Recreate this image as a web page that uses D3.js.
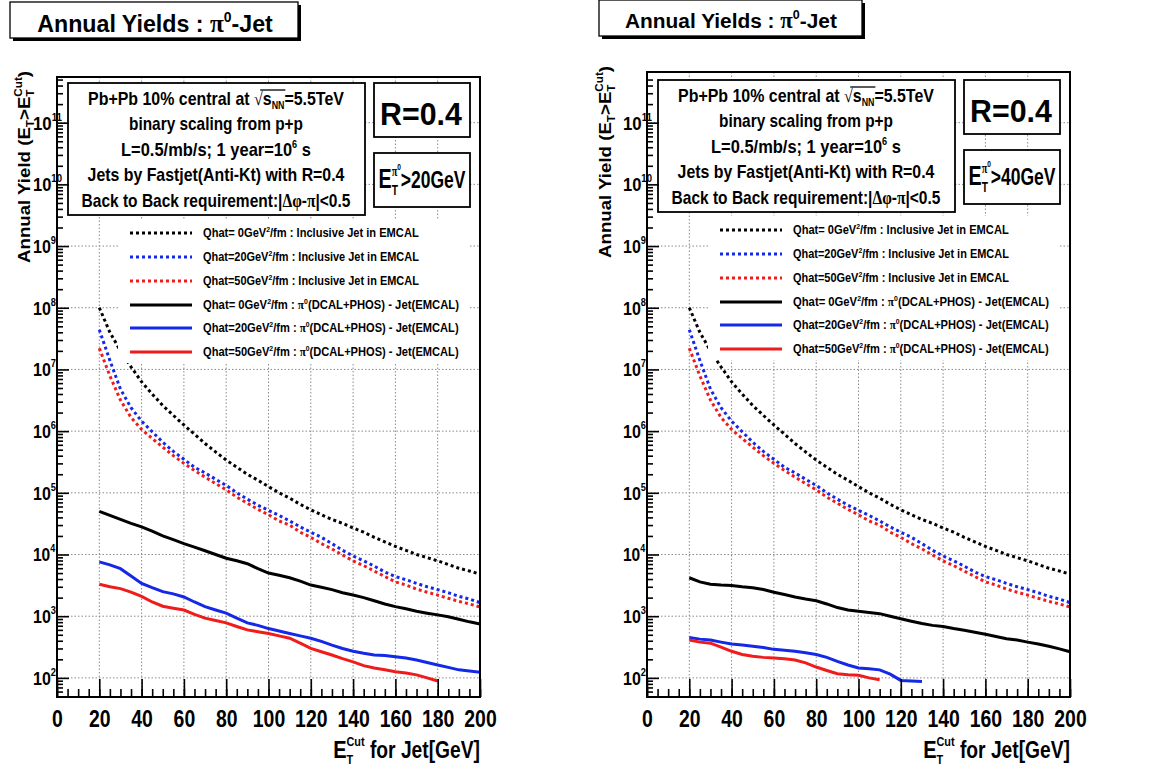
<!DOCTYPE html>
<html>
<head>
<meta charset="utf-8">
<script src="https://cdn.jsdelivr.net/npm/d3@7"></script>
<style>
body { margin: 0; background: #fff; }
svg text { font-family: "Liberation Sans Narrow", "Arial Narrow", "Liberation Sans", Arial, sans-serif; font-weight: bold; fill: #000; white-space: pre; }
svg .gr { font-family: "Liberation Serif", "Times New Roman", serif; }
</style>
</head>
<body>
<script>
// E_T cut on the jet [GeV]
const ecut = [20, 25, 30, 35, 40, 45, 50, 55, 60, 65, 70, 75, 80, 85, 90, 95, 100, 105, 110, 115, 120,
              125, 130, 135, 140, 145, 150, 155, 160, 165, 170, 175, 180, 185, 190, 195, 200];

// inclusive jets in EMCAL (same in both panels)
const inclQ0 = [1.0e8, 4.0e7, 2.0e7, 1.1e7, 6.3e6, 4.0e6, 2.6e6, 1.8e6, 1.26e6, 8.9e5, 6.3e5, 4.6e5, 3.4e5,
                2.6e5, 2.0e5, 1.6e5, 1.26e5, 1.0e5, 8.2e4, 6.5e4, 5.3e4, 4.4e4, 3.7e4, 3.2e4, 2.7e4, 2.3e4,
                1.9e4, 1.6e4, 1.35e4, 1.17e4, 1.0e4, 8.9e3, 7.9e3, 6.9e3, 6.0e3, 5.4e3, 4.8e3];
const inclQ20 = [4.4e7, 1.4e7, 4.8e6, 2.4e6, 1.45e6, 9.8e5, 6.6e5, 4.7e5, 3.5e5, 2.6e5, 2.1e5, 1.66e5, 1.32e5,
                 1.0e5, 7.9e4, 6.3e4, 5.2e4, 4.3e4, 3.5e4, 2.8e4, 2.3e4, 1.9e4, 1.5e4, 1.17e4, 9.5e3, 7.9e3,
                 6.5e3, 5.2e3, 4.4e3, 3.9e3, 3.4e3, 3.0e3, 2.7e3, 2.4e3, 2.1e3, 1.9e3, 1.66e3];
const inclQ50 = [2.2e7, 7.9e6, 3.2e6, 1.66e6, 1.07e6, 7.6e5, 5.5e5, 4.0e5, 3.0e5, 2.3e5, 1.8e5, 1.41e5, 1.12e5,
                 8.5e4, 6.8e4, 5.4e4, 4.4e4, 3.5e4, 3.0e4, 2.3e4, 1.9e4, 1.5e4, 1.23e4, 9.8e3, 7.9e3, 6.6e3,
                 5.4e3, 4.4e3, 3.6e3, 3.2e3, 2.75e3, 2.45e3, 2.2e3, 1.95e3, 1.74e3, 1.58e3, 1.41e3];

// pi0(DCAL+PHOS) - jet(EMCAL), E_T^pi0 > 20 GeV
const pj20Q0 = [5.0e4, 4.3e4, 3.7e4, 3.2e4, 2.8e4, 2.4e4, 2.0e4, 1.74e4, 1.5e4, 1.32e4, 1.15e4, 1.0e4, 8.7e3,
                7.9e3, 7.1e3, 5.9e3, 5.0e3, 4.6e3, 4.2e3, 3.7e3, 3.2e3, 2.95e3, 2.7e3, 2.4e3, 2.2e3, 2.0e3,
                1.78e3, 1.58e3, 1.43e3, 1.32e3, 1.2e3, 1.12e3, 1.05e3, 980, 890, 810, 750];
const pj20Q20 = [7.6e3, 6.8e3, 5.9e3, 4.5e3, 3.4e3, 2.9e3, 2.5e3, 2.3e3, 2.05e3, 1.7e3, 1.43e3, 1.26e3, 1.12e3,
                 930, 780, 710, 630, 575, 525, 480, 440, 390, 340, 300, 270, 250, 235, 230, 220, 210, 195,
                 178, 162, 148, 135, 129, 123];
const pj20Q50 = [3.3e3, 3.0e3, 2.8e3, 2.45e3, 2.1e3, 1.7e3, 1.45e3, 1.35e3, 1.26e3, 1.07e3, 930, 850, 780,
                 680, 600, 560, 525, 480, 440, 365, 300, 265, 235, 205, 182, 158, 145, 135, 126, 120, 112,
                 100, 89];

// pi0(DCAL+PHOS) - jet(EMCAL), E_T^pi0 > 40 GeV
const pj40Q0 = [4.2e3, 3.6e3, 3.3e3, 3.2e3, 3.15e3, 3.0e3, 2.9e3, 2.7e3, 2.45e3, 2.25e3, 2.05e3, 1.9e3, 1.78e3,
                1.58e3, 1.38e3, 1.26e3, 1.2e3, 1.15e3, 1.1e3, 1.0e3, 910, 830, 760, 710, 680, 630, 590, 550,
                510, 470, 430, 410, 380, 355, 325, 295, 265];
const pj40Q20 = [450, 425, 410, 380, 355, 340, 325, 310, 290, 280, 270, 255, 240, 215, 185, 162, 145, 141,
                 135, 115, 91, 89, 87];
const pj40Q50 = [410, 380, 365, 315, 270, 240, 225, 215, 210, 205, 195, 175, 150, 132, 117, 112, 110, 100, 93];

const xTicks = [0, 20, 40, 60, 80, 100, 120, 140, 160, 180, 200];
const xGrid = [20, 40, 60, 80, 100, 120, 140, 160, 180];
const yDecades = [2, 3, 4, 5, 6, 7, 8, 9, 10, 11];
const qhatLabels = ["Qhat= 0GeV", "Qhat=20GeV", "Qhat=50GeV"];
const inclText = "/fm : Inclusive Jet in EMCAL";
const pjText = "(DCAL+PHOS) - Jet(EMCAL)";
const infoLines = [
    [["Pb+Pb 10% central at ", 18], ["\u221A", 18, 0, false, "gr"], ["s", 18], ["NN", 10, 4], ["=5.5TeV", 18, 0]],
    [["binary scaling from p+p", 18]],
    [["L=0.5/mb/s; 1 year=10", 18], ["6", 10, -8], [" s", 18, 0]],
    [["Jets by Fastjet(Anti-Kt) with R=0.4", 18]],
    [["Back to Back requirement:|", 18], ["\u0394\u03C6", 18, 0, false, "gr"], ["-", 18], ["\u03C0", 18, 0, false, "gr"], ["|<0.5", 18]]
];

const BLUE = "#1428e8", RED = "#f01c1c";
const styles = [
    {c: "#000", dash: "3,3"}, {c: BLUE, dash: "3,3"}, {c: RED, dash: "3,3"},
    {c: "#000", dash: null}, {c: BLUE, dash: null}, {c: RED, dash: null}
];

const panels = [
    {dx: 0, dy: 0, top: 77, cut: "20", ytx: 30, pj: [pj20Q0, pj20Q20, pj20Q50],
     title: {x: 10, y: 2, w: 288, h: 36, cx: 155, base: 32, size: 23, tw: 236}},
    {dx: 590, dy: -3, top: 72, cut: "40", ytx: 21, pj: [pj40Q0, pj40Q20, pj40Q50],
     title: {x: 9, y: 0, w: 263, h: 36, cx: 141, base: 28, size: 21, tw: 212}}
];

const frame = {l: 57, r: 480, b: 697};
const x = d3.scaleLinear().domain([0, 200]).range([frame.l, frame.r]);
const y = d3.scaleLog().domain([49, 5.5e11]).range([frame.b, 77]);

let svg = d3.select("body").append("svg")
    .attr("width", 1173)
    .attr("height", 766);

// text made of tspans: [string, size, baseline shift, stack over previous, class]
function rich(g, parts, attrs) {
    let t = g.append("text");
    Object.entries(attrs).forEach(([k, v]) => t.attr(k, v));
    let cur = 0, prev = null;
    parts.forEach(([s, size, shift = 0, back = false, cls = null]) => {
        let ts = t.append("tspan").text(s).style("font-size", size + "px");
        if (shift !== cur) ts.attr("dy", shift - cur);
        if (back && prev) ts.attr("dx", -prev.node().getComputedTextLength());
        if (cls) ts.attr("class", cls);
        cur = shift;
        prev = ts;
    });
    return t;
}

// squeeze a label group horizontally to the width seen in the picture
function fit(g, t, w, ax) {
    let bw = t.node().getBBox().width;
    let k = w / bw;
    g.attr("transform", `translate(${ax},0) scale(${k},1) translate(${-ax},0)`);
}

function label(parent, parts, attrs, w, ax) {
    let g = parent.append("g");
    let t = rich(g, parts, attrs);
    if (w) fit(g, t, w, ax);
    return {g, t};
}

function box(g, bx, by, bw, bh, shadow) {
    if (shadow) {
        g.append("rect").attr("x", bx + 3).attr("y", by + 3).attr("width", bw).attr("height", bh).attr("fill", "#000");
    }
    g.append("rect").attr("x", bx).attr("y", by).attr("width", bw).attr("height", bh)
        .attr("fill", "#fff").attr("stroke", "#000").attr("stroke-width", shadow ? 1.3 : 1.8);
}

function draw_panel(p) {
    let g = svg.append("g").attr("transform", `translate(${p.dx},0)`);
    let bdy = p.dy;

    // title
    let tt = p.title;
    box(g, tt.x, tt.y, tt.w, tt.h, true);
    label(g, [["Annual Yields : ", tt.size], ["\u03C0", tt.size + 2, 0, false, "gr"], ["0", tt.size * 0.6, -tt.size * 0.42], ["-Jet", tt.size, 0]],
        {x: tt.cx, y: tt.base, "text-anchor": "middle"}, tt.tw, tt.cx);

    // grid
    let grid = g.append("g").attr("stroke", "#8a8a8a").attr("stroke-width", 1).attr("stroke-dasharray", "1.5,2");
    grid.selectAll(".gx").data(xGrid).join("line")
        .attr("x1", d => x(d)).attr("x2", d => x(d))
        .attr("y1", p.top).attr("y2", frame.b);
    grid.selectAll(".gy").data(yDecades).join("line")
        .attr("x1", frame.l).attr("x2", frame.r)
        .attr("y1", d => y(Math.pow(10, d))).attr("y2", d => y(Math.pow(10, d)));

    // curves
    let series = [inclQ0, inclQ20, inclQ50].concat(p.pj);
    let line = d3.line().x((d, i) => x(ecut[i])).y(d => y(d));
    series.forEach((s, i) => {
        g.append("path")
            .attr("d", line(s))
            .attr("fill", "none")
            .attr("stroke", styles[i].c)
            .attr("stroke-width", 3)
            .attr("stroke-dasharray", styles[i].dash);
    });

    // info box
    box(g, 68, 83 + bdy, 297, 132, false);
    infoLines.forEach((parts, i) => {
        let bases = [105, 130, 156, 181, 207];
        let widths = [256, 174, 190, 257, 269];
        let {g: lg, t} = label(g, parts, {x: 216, y: bases[i] + bdy, "text-anchor": "middle"}, null, 0);
        if (i === 0) {
            let n = t.node();
            let x0 = n.getStartPositionOfChar(22).x, x1 = n.getEndPositionOfChar(24).x;
            let x00 = n.getStartPositionOfChar(21).x;
            lg.append("line").attr("x1", (x00 + x0) / 2 + 2).attr("x2", x1 + 1)
                .attr("y1", bases[i] + bdy - 15).attr("y2", bases[i] + bdy - 15)
                .attr("stroke", "#000").attr("stroke-width", 1.3);
        }
        fit(lg, t, widths[i], 216);
    });

    // R box
    box(g, 374, 83 + bdy, 96, 54, false);
    label(g, [["R=0.4", 32]], {x: 421, y: 125 + bdy, "text-anchor": "middle"}, 82, 421);

    // pi0 cut box
    box(g, 374, 153 + bdy, 96, 54, false);
    label(g, [["E", 27], ["T", 14, 7], ["\u03C0", 14, -12, true, "gr"], ["0", 9, -18], [">" + p.cut + "GeV", 24, 0]],
        {x: 422, y: 188 + bdy, "text-anchor": "middle"}, 87, 422);

    // legend
    g.append("rect").attr("x", 118).attr("y", 219 + bdy).attr("width", 352).attr("height", 144).attr("fill", "#fff");
    let rows = [233, 257, 281, 305, 328, 352];
    styles.forEach((st, i) => {
        let ry = rows[i] + bdy;
        g.append("line").attr("x1", 130).attr("x2", 192).attr("y1", ry).attr("y2", ry)
            .attr("stroke", st.c).attr("stroke-width", 3).attr("stroke-dasharray", st.dash);
        let parts = [[qhatLabels[i % 3], 13], ["2", 8, -5], [i < 3 ? inclText : "/fm : ", 13, 0]];
        if (i >= 3) parts = parts.concat([["\u03C0", 13, 0, false, "gr"], ["0", 8, -5], [pjText, 13, 0]]);
        label(g, parts, {x: 203, y: ry + 4}, i < 3 ? 216 : 256, 203);
    });

    // axes
    let ax = g.append("g").attr("transform", `translate(0,${frame.b})`)
        .call(d3.axisBottom(x).tickValues(xTicks).tickSize(-18).tickFormat(d3.format("d")));
    ax.select(".domain").remove();
    ax.selectAll("text").attr("y", 30).attr("dy", null).style("font-size", "23px")
        .attr("textLength", d => String(d).length * 10.8).attr("lengthAdjust", "spacingAndGlyphs");
    let axm = g.append("g").attr("transform", `translate(0,${frame.b})`)
        .call(d3.axisBottom(x).tickValues(d3.range(0, 201, 5)).tickSize(-8).tickFormat(""));
    axm.select(".domain").remove();

    let minor = [];
    for (let n = 1; n <= 11; n++)
        for (let k = 2; k <= 9; k++)
            if (k * Math.pow(10, n) >= 49 && k * Math.pow(10, n) <= 5.5e11) minor.push(k * Math.pow(10, n));
    let ay = g.append("g").attr("transform", `translate(${frame.l},0)`)
        .call(d3.axisLeft(y).tickValues(yDecades.map(d => Math.pow(10, d))).tickSize(-12).tickFormat(""));
    ay.select(".domain").remove();
    let aym = g.append("g").attr("transform", `translate(${frame.l},0)`)
        .call(d3.axisLeft(y).tickValues(minor).tickSize(-6).tickFormat(""));
    aym.select(".domain").remove();
    g.selectAll(".tick line").attr("stroke-width", 1.6);

    // decade labels: "10" starts at a fixed x, the exponent runs on into the frame when it has two digits
    yDecades.forEach(d => {
        label(g, [["10", 19], [String(d), 11, -9]], {x: 33, y: y(Math.pow(10, d)) + 7},
            d < 10 ? 23 : 29, 33);
    });

    // axis titles
    label(g, [["E", 24], ["T", 13, 6], ["Cut", 13, -12, true], [" for Jet[GeV]", 23, 0]],
        {x: frame.r, y: 758, "text-anchor": "end"}, 147, frame.r);
    let yt = g.append("g").attr("transform", `translate(${p.ytx},${p.top - 6}) rotate(-90)`);
    label(yt, [["Annual Yield (E", 16], ["T", 10, 4], [">E", 16, 0], ["T", 10, 4], ["Cut", 10, -8, true], [")", 16, 0]],
        {x: 0, y: 0, "text-anchor": "end"}, 192, 0);

    // frame
    g.append("rect").attr("x", frame.l).attr("y", p.top)
        .attr("width", frame.r - frame.l).attr("height", frame.b - p.top)
        .attr("fill", "none").attr("stroke", "#000").attr("stroke-width", 2);
}

panels.forEach(draw_panel);
</script>
</body>
</html>
